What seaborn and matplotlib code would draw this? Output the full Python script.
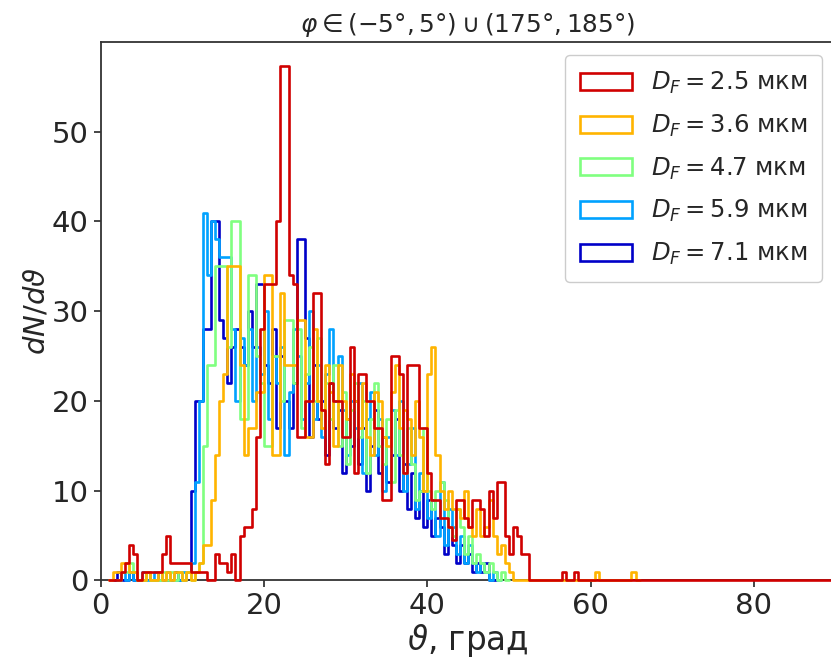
import numpy as np
import pandas as pd
import matplotlib
matplotlib.use("Agg")
import matplotlib.pyplot as plt
import seaborn as sns
from matplotlib.patches import Patch

# Histogram bin width, degrees
BIN = 0.5

diameters = ["2.5", "3.6", "4.7", "5.9", "7.1"]
colors = ["#d00000", "#ffb400", "#80ff80", "#00a2ff", "#0000c8"]
# (first edge, last edge) of each histogram's range, degrees
ranges = [(1.0, 90.0), (1.0, 66.0), (2.0, 50.0), (2.0, 49.0), (1.5, 48.5)]

# dN/dtheta per 0.5-degree bin, starting at the first edge of each range
dn_25 = [0, 0, 0, 1, 2, 4, 3, 0, 1, 1, 1, 1, 1, 3, 5, 2, 2, 2, 2, 2,
         1, 1, 1, 1, 0, 0, 3, 2, 2, 1, 3, 0, 5, 6, 6, 8, 16, 28, 33, 33,
         33, 40, 57.3, 57.3, 34, 33, 16, 16, 20, 20, 32, 32, 19, 13, 22, 20,
         20, 16, 16, 26, 12, 23, 23, 20, 20, 17, 17, 9, 9, 25, 25, 23, 12, 24,
         24, 24, 17, 17, 12, 9, 9, 7, 7, 6, 4.5, 9, 9, 7, 6, 9, 9, 8, 5, 10,
         7, 11, 11, 5, 3, 6, 5, 3, 3, 0, 0, 0, 0, 0, 0, 0, 0, 1, 0, 0, 1, 0]
dn_36 = [0, 1, 1, 2, 2, 1, 1, 0, 0, 1, 0, 0, 1, 0, 1, 0, 1, 1, 0, 1,
         0, 1, 2, 4, 4, 9, 14, 20, 23, 35, 35, 35, 24, 14, 17, 17, 21, 21, 34, 34,
         14, 14, 32, 24, 24, 24, 29, 29, 16, 16, 28, 20, 17, 24, 21, 15, 24, 20, 18, 23,
         20, 17, 22, 16, 14, 21, 20, 16, 15, 21, 24, 17, 19, 18, 14, 20, 16, 10, 23, 26,
         14, 10, 8, 10, 8, 8, 7, 10, 6, 5, 8, 5, 6, 9, 5, 3, 4, 2, 1, 0,
         0, 0, 0, 0, 0, 0, 0, 0, 0, 0, 0, 0, 0, 0, 0, 0, 0, 0, 0, 1,
         0, 0, 0, 0, 0, 0, 0, 0, 1, 0]
dn_47 = [0, 1, 1, 2, 1, 0, 0, 1, 0, 0, 0, 1, 0, 1, 0, 1, 0, 1, 0, 1,
         2, 15, 24, 24, 35, 35, 35, 26, 40, 40, 18, 18, 34, 34, 25, 22, 15, 15, 25, 25,
         20, 29, 29, 22, 28, 17, 23, 26, 20, 27, 19, 22, 18, 24, 15, 21, 13, 19, 22, 16,
         20, 12, 18, 22, 15, 13, 18, 11, 19, 14, 12, 17, 13, 9, 10, 17, 10, 8, 10, 11,
         9, 6, 5, 8, 6, 3, 5, 2, 3, 2, 1, 2, 1, 0, 1, 0]
dn_59 = [0, 1, 0, 1, 0, 0, 1, 0, 0, 1, 0, 0, 1, 0, 0, 0, 1, 1, 2, 11,
         20, 41, 34, 40, 38, 36, 36, 36, 28, 20, 27, 24, 28, 20, 26, 23, 30, 18, 25, 22,
         26, 14, 21, 28, 25, 18, 22, 30, 18, 24, 16, 23, 28, 20, 25, 19, 14, 20, 17, 22,
         12, 18, 21, 14, 18, 10, 16, 19, 14, 20, 10, 13, 17, 8, 12, 10, 7, 9, 5, 11,
         4, 8, 6, 3, 5, 2, 4, 2, 1, 2, 1, 0, 1, 0]
dn_71 = [0, 1, 0, 0, 1, 0, 0, 0, 1, 0, 0, 1, 0, 0, 0, 1, 0, 0, 1, 10,
         20, 20, 28, 28, 40, 40, 29, 27, 22, 26, 28, 26, 24, 30, 26, 33, 33, 24, 22, 28,
         17, 25, 20, 17, 22, 38, 38, 27, 16, 24, 18, 20, 14, 22, 17, 19, 12, 18, 15, 20,
         13, 17, 10, 15, 19, 12, 16, 11, 14, 18, 10, 13, 8, 12, 7, 10, 6, 9, 5, 7,
         6, 3, 6, 4, 2, 4, 2, 3, 1, 2, 1, 2, 0, 0]

series = [dn_25, dn_36, dn_47, dn_59, dn_71]

sns.set_style("ticks")
plt.rcParams["font.family"] = ["DejaVu Sans"]
plt.rcParams["mathtext.fontset"] = "dejavusans"

fig = plt.figure(figsize=(8.31, 6.58), dpi=100)
ax = fig.add_axes([0.1212, 0.1178, 0.8843, 0.8184])

# Largest diameter drawn first so the 2.5 um curve sits on top
for vals, (lo, hi), col in reversed(list(zip(series, ranges, colors))):
    edges = np.arange(lo, hi + BIN / 2, BIN)
    full = np.zeros(len(edges) - 1)
    full[:len(vals)] = vals
    df = pd.DataFrame({"theta": edges[:-1] + BIN / 2, "dn": full})
    sns.histplot(data=df, x="theta", weights="dn", bins=edges.tolist(),
                 element="step", fill=False, color=col, linewidth=1.9,
                 zorder=3, clip_on=False, ax=ax)

ax.set_xlim(0, 90)
ax.set_ylim(0, 60)
ax.set_xticks([0, 20, 40, 60, 80])
ax.set_yticks([0, 10, 20, 30, 40, 50])
ax.tick_params(labelsize=21, length=5, width=1.2)
for s in ax.spines.values():
    s.set_linewidth(1.3)
    s.set_color("#333333")

ax.set_xlabel(r"$\vartheta$, град", fontsize=23.5, labelpad=1)
ax.set_ylabel(r"$dN/d\vartheta$", fontsize=21, labelpad=1)
ax.set_title(r"$\varphi\in(-5\degree,5\degree)\cup(175\degree,185\degree)$",
             fontsize=17.8, pad=7)

handles = [Patch(facecolor="none", edgecolor=c, linewidth=1.9) for c in colors]
labels = [r"$D_F = " + d + r"$ мкм" for d in diameters]
ax.legend(handles, labels, loc="upper right", fontsize=17.5,
          handlelength=2.15, handleheight=0.7, labelspacing=0.68,
          borderpad=0.6, borderaxespad=0.55, framealpha=1)

fig.savefig("out.png", dpi=100)
